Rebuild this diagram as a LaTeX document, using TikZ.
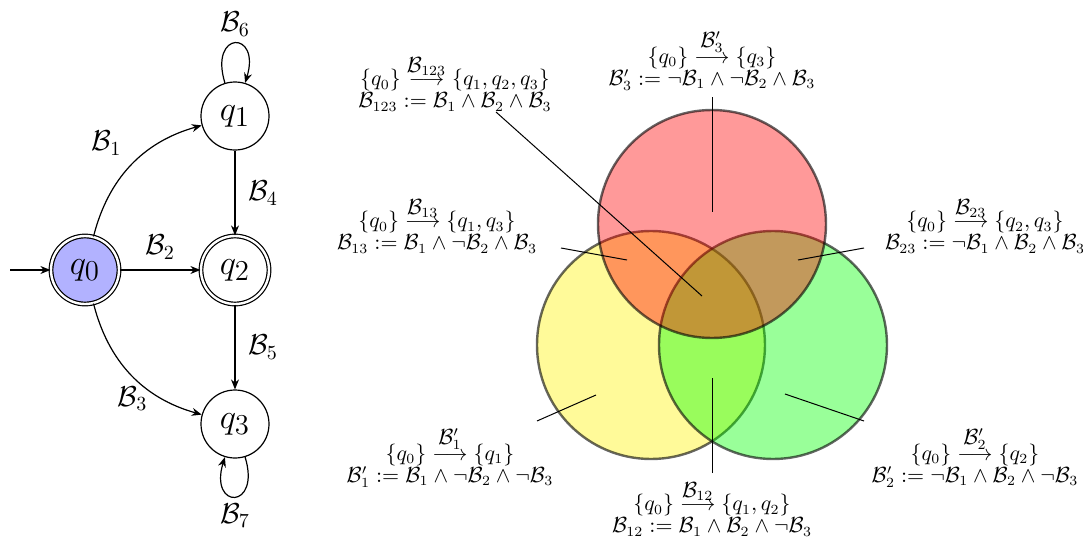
\documentclass[tikz,border=0pt]{standalone}
\usepackage{amsmath}
\usetikzlibrary{automata,arrows.meta}
\newcommand{\tarrow}[1]{\overset{\textstyle #1}{\longrightarrow}}
\begin{document}
\begin{tikzpicture}[x=0.5pt,y=-0.5pt,
  st/.style={circle,draw,line width=0.6pt,minimum size=34pt,inner sep=0pt,font=\fontsize{19}{20}\selectfont},
  acc/.style={double,double distance=1.2pt},
  arr/.style={line width=0.6pt,-{Stealth[length=5pt,width=4pt]}},
  elab/.style={font=\fontsize{14}{16}\selectfont},
  vlab/.style={align=center,font=\fontsize{10.5}{11}\selectfont,inner sep=0pt},
  venn/.style={line width=1.2pt,draw=black,draw opacity=0.6,fill opacity=0.4},
  lead/.style={line width=0.5pt}]
\useasboundingbox (0,0) rectangle (1083,541);
% automaton
\node[st,acc,fill=blue!30] (q0) at (85,270) {$q_0$};
\node[st] (q1) at (235,116) {$q_1$};
\node[st,acc] (q2) at (235,270) {$q_2$};
\node[st] (q3) at (235,424) {$q_3$};
\coordinate (init) at (10,270);
\draw[arr] (init) -- (q0);
\draw[arr] (q0) to[bend left=30] node[elab,midway,shift={(-25,-22)}] {$\mathcal{B}_1$} (q1);
\draw[arr] (q0) -- node[elab,midway,shift={(0,-23)}] {$\mathcal{B}_2$} (q2);
\draw[arr] (q0) to[bend right=30] node[elab,midway,shift={(1,24)}] {$\mathcal{B}_3$} (q3);
\draw[arr] (q1) -- node[elab,midway,shift={(28,0)}] {$\mathcal{B}_4$} (q2);
\draw[arr] (q2) -- node[elab,midway,shift={(28,0)}] {$\mathcal{B}_5$} (q3);
\draw[arr] (q1) to[out=107,in=73,looseness=7] node[elab,above] {$\mathcal{B}_6$} (q1);
\draw[arr] (q3) to[out=287,in=253,looseness=7] node[elab,below] {$\mathcal{B}_7$} (q3);
% venn
\draw[venn,fill=yellow] (651,345) circle[radius=57pt];
\draw[venn,fill=green] (773,345) circle[radius=57pt];
\draw[venn,fill=red] (712,224) circle[radius=57pt];
% labels
\node[vlab] (l123) at (455,83) {$\{q_0\}\tarrow{\mathcal{B}_{123}}\{q_1,q_2,q_3\}$\\$\mathcal{B}_{123}:=\mathcal{B}_1\wedge\mathcal{B}_2\wedge\mathcal{B}_3$};
\node[vlab] (l3) at (712,60) {$\{q_0\}\tarrow{\mathcal{B}'_3}\{q_3\}$\\$\mathcal{B}'_3:=\neg\mathcal{B}_1\wedge\neg\mathcal{B}_2\wedge\mathcal{B}_3$};
\node[vlab] (l13) at (437,225) {$\{q_0\}\tarrow{\mathcal{B}_{13}}\{q_1,q_3\}$\\$\mathcal{B}_{13}:=\mathcal{B}_1\wedge\neg\mathcal{B}_2\wedge\mathcal{B}_3$};
\node[vlab] (l23) at (985,225) {$\{q_0\}\tarrow{\mathcal{B}_{23}}\{q_2,q_3\}$\\$\mathcal{B}_{23}:=\neg\mathcal{B}_1\wedge\mathcal{B}_2\wedge\mathcal{B}_3$};
\node[vlab] (l1) at (450,457) {$\{q_0\}\tarrow{\mathcal{B}'_1}\{q_1\}$\\$\mathcal{B}'_1:=\mathcal{B}_1\wedge\neg\mathcal{B}_2\wedge\neg\mathcal{B}_3$};
\node[vlab] (l2) at (975,457) {$\{q_0\}\tarrow{\mathcal{B}'_2}\{q_2\}$\\$\mathcal{B}'_2:=\neg\mathcal{B}_1\wedge\mathcal{B}_2\wedge\neg\mathcal{B}_3$};
\node[vlab] (l12) at (712,508) {$\{q_0\}\tarrow{\mathcal{B}_{12}}\{q_1,q_2\}$\\$\mathcal{B}_{12}:=\mathcal{B}_1\wedge\mathcal{B}_2\wedge\neg\mathcal{B}_3$};
% leader lines
\coordinate (a123) at (496,112); \coordinate (b123) at (702,296);
\coordinate (a3) at (712,97);    \coordinate (b3) at (712,212);
\coordinate (a13) at (561,248);  \coordinate (b13) at (627,260);
\coordinate (a23) at (864,248);  \coordinate (b23) at (798,260);
\coordinate (a1) at (537,421);   \coordinate (b1) at (596,395);
\coordinate (a2) at (864,421);   \coordinate (b2) at (785,394);
\coordinate (a12) at (712,473);  \coordinate (b12) at (712,378);
\draw[lead] (a123) -- (b123);
\draw[lead] (a3) -- (b3);
\draw[lead] (a13) -- (b13);
\draw[lead] (a23) -- (b23);
\draw[lead] (a1) -- (b1);
\draw[lead] (a2) -- (b2);
\draw[lead] (a12) -- (b12);
\end{tikzpicture}
\end{document}
